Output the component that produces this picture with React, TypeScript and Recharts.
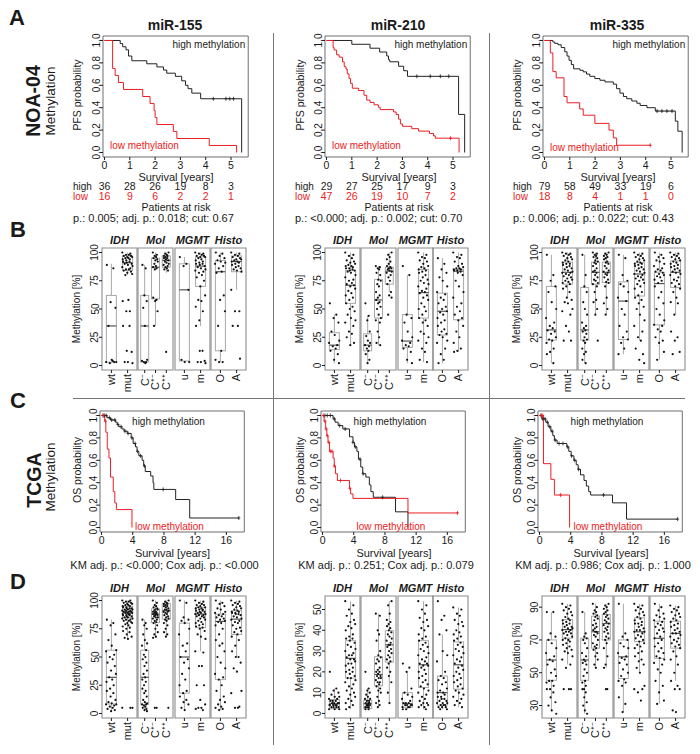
import React from 'react';
import { Bar, ComposedChart, Line, ReferenceArea, Scatter, XAxis, YAxis } from 'recharts';

const FONT = '"Liberation Sans", Arial, Helvetica, sans-serif';
const RED = '#ec1c24';
const INK = '#1a1a1a';
const FRAME = '#8c8c8c';

// ---------- Kaplan-Meier: [years, survival probability] ----------
const YEARS_NOA = [0, 1, 2, 3, 4, 5];
const YEARS_TCGA = [0, 4, 8, 12, 16];
const PROB_TICKS = [0, 0.2, 0.4, 0.6, 0.8, 1];

const A155_HIGH = [[0, 1], [0.62, 0.972], [0.72, 0.944], [0.85, 0.917], [0.95, 0.861], [1.08, 0.819], [1.67, 0.792], [2.07, 0.764], [2.33, 0.736], [2.46, 0.708], [2.8, 0.68], [3.05, 0.64], [3.2, 0.6], [3.3, 0.57], [3.45, 0.53], [3.8, 0.48], [5.42, 0]];
const A155_LOW = [[0, 1], [0.32, 0.75], [0.42, 0.688], [0.55, 0.625], [0.75, 0.563], [1.51, 0.5], [1.8, 0.438], [1.96, 0.375], [2.0, 0.313], [2.07, 0.25], [2.72, 0.188], [2.86, 0.125], [4.14, 0.063], [5.22, 0]];
const A210_HIGH = [[0, 1], [1.0, 0.966], [1.72, 0.931], [2.1, 0.897], [2.38, 0.862], [2.45, 0.828], [2.5, 0.81], [2.85, 0.77], [3.05, 0.73], [3.2, 0.68], [5.22, 0.34], [5.46, 0]];
const A210_LOW = [[0, 1], [0.26, 0.936], [0.3, 0.915], [0.4, 0.872], [0.5, 0.851], [0.63, 0.809], [0.7, 0.766], [0.77, 0.745], [0.82, 0.702], [0.89, 0.66], [0.95, 0.617], [1.02, 0.574], [1.26, 0.553], [1.48, 0.511], [1.59, 0.468], [1.72, 0.447], [1.88, 0.426], [2.05, 0.404], [2.12, 0.383], [2.65, 0.362], [2.75, 0.34], [2.85, 0.298], [2.92, 0.255], [3.0, 0.234], [3.37, 0.213], [3.64, 0.191], [4.07, 0.17], [4.23, 0.149], [4.3, 0.128], [5.24, 0]];
const A335_HIGH = [[0, 1], [0.33, 0.987], [0.4, 0.975], [0.53, 0.962], [0.66, 0.937], [0.8, 0.899], [0.89, 0.861], [0.97, 0.823], [1.06, 0.785], [1.15, 0.747], [1.4, 0.734], [1.53, 0.72], [1.66, 0.7], [1.79, 0.68], [1.99, 0.66], [2.19, 0.645], [2.39, 0.63], [2.72, 0.61], [2.85, 0.57], [2.98, 0.53], [3.12, 0.5], [3.25, 0.48], [3.45, 0.46], [3.65, 0.44], [3.78, 0.42], [4.05, 0.4], [4.38, 0.37], [5.17, 0.28], [5.27, 0.19], [5.44, 0]];
const A335_LOW = [[0, 1], [0.23, 0.889], [0.33, 0.722], [0.46, 0.667], [0.77, 0.5], [0.89, 0.444], [1.39, 0.389], [1.53, 0.333], [1.99, 0.26], [2.55, 0.2], [2.72, 0.13], [2.85, 0.065], [4.18, 0.065]];

const C155_HIGH = [[0, 1], [0.7, 0.98], [1.15, 0.96], [1.8, 0.94], [2.0, 0.92], [2.2, 0.9], [2.6, 0.88], [2.9, 0.86], [3.3, 0.84], [3.8, 0.8], [4.05, 0.75], [4.35, 0.72], [4.55, 0.68], [4.78, 0.64], [5.2, 0.6], [5.4, 0.55], [5.6, 0.5], [6.3, 0.46], [6.6, 0.4], [6.7, 0.34], [9.5, 0.25], [11.3, 0.085], [17.6, 0.085]];
const C155_LOW = [[0, 1], [0.4, 0.95], [0.55, 0.85], [0.73, 0.7], [0.95, 0.62], [1.15, 0.45], [1.5, 0.32], [1.7, 0.22], [1.9, 0.16], [3.9, 0]];
const C210_HIGH = [[0, 1], [1.35, 0.97], [1.6, 0.94], [2.0, 0.91], [2.6, 0.88], [3.45, 0.81], [3.9, 0.76], [4.1, 0.72], [4.4, 0.68], [4.6, 0.61], [4.9, 0.54], [5.15, 0.48], [5.55, 0.45], [6.0, 0.38], [6.2, 0.32], [6.5, 0.27], [9.35, 0.14], [10.95, 0]];
const C210_LOW = [[0, 1], [0.2, 0.95], [0.4, 0.88], [0.55, 0.82], [0.7, 0.76], [0.9, 0.68], [1.35, 0.62], [1.5, 0.55], [1.65, 0.48], [1.9, 0.42], [3.45, 0.35], [3.6, 0.3], [3.9, 0.26], [10.95, 0.13], [17.3, 0.13]];
const C335_HIGH = [[0, 1], [0.3, 0.97], [0.8, 0.94], [1.1, 0.9], [1.45, 0.86], [1.7, 0.82], [1.9, 0.78], [2.25, 0.75], [3.5, 0.72], [3.75, 0.68], [4.05, 0.64], [4.4, 0.6], [4.7, 0.56], [4.95, 0.52], [5.25, 0.47], [5.7, 0.42], [6.0, 0.37], [6.3, 0.32], [6.55, 0.29], [9.35, 0.22], [11.15, 0.075], [17.7, 0.075]];
const C335_LOW = [[0, 1], [0.5, 0.57], [1.45, 0.43], [1.9, 0.29], [3.85, 0]];

// censoring times (years)
const A155_CENS = [[4.3, 4.8, 4.95, 5.1], []];
const A210_CENS = [[3.57, 4.1, 4.5, 4.83], [4.9]];
const A335_CENS = [[4.45, 4.64, 4.84, 5.04], [4.18]];
const C155_CENS = [[0.2, 0.4, 0.6, 1.0, 1.3, 1.7, 2.1, 2.5, 3.0, 3.4, 3.9, 4.3, 4.6, 5.0, 5.5, 7.9, 17.6], [0.2, 0.5]];
const C210_CENS = [[0.3, 0.6, 1.0, 1.5, 2.2, 2.9, 3.9, 4.2, 4.8, 5.2, 7.7], [0.1, 0.3, 0.45, 0.6, 0.8, 1.0, 1.2, 1.5, 2.3, 3.5, 17.3]];
const C335_CENS = [[0.2, 0.4, 0.7, 1.0, 1.3, 1.6, 2.0, 2.5, 3.0, 3.6, 4.1, 4.5, 5.0, 8.2, 17.7], [0.2, 0.4, 2.7]];

// patients at risk (high / low)
const RISK_155 = [[36, 28, 26, 19, 8, 3], [16, 9, 6, 2, 2, 1]];
const RISK_210 = [[29, 27, 25, 17, 9, 3], [47, 26, 19, 10, 7, 2]];
const RISK_335 = [[79, 58, 49, 33, 19, 6], [18, 8, 4, 1, 1, 0]];

const STATS_NOA = ['p.: 0.005; adj. p.: 0.018; cut: 0.67', 'p.: <0.000; adj. p.: 0.002; cut: 0.70', 'p.: 0.006; adj. p.: 0.022; cut: 0.43'];
const STATS_TCGA = ['KM adj. p.: <0.000; Cox adj. p.: <0.000', 'KM adj. p.: 0.251; Cox adj. p.: 0.079', 'KM adj. p.: 0.986; Cox adj. p.: 1.000'];
const TITLES = ['miR-155', 'miR-210', 'miR-335'];

// ---------- methylation by group: box = [min, q1, median, q3, max] ----------
const FACETS = ['IDH', 'Mol', 'MGMT', 'Histo'];
const IDH_CATS = ['wt', 'mut'];
const MOL_CATS = ['C\u207B', 'C\u207A\u207B', 'C\u207A\u207A'];
const MGMT_CATS = ['u', 'm'];
const HISTO_CATS = ['O', 'A'];
const PCT_TICKS = [0, 25, 50, 75, 100];
const D210_TICKS = [0, 10, 20, 30, 40, 50];
const D335_TICKS = [30, 50, 70, 90];

const B155_IDH_BOX = [[2, 3, 35, 62, 90], [80, 84, 91, 97, 100]];
const B155_IDH_PTS = [[89, 86, 56, 51, 35, 5, 3, 3, 3, 2, 4], [100, 99, 98, 98, 97, 97, 96, 96, 95, 95, 94, 94, 93, 92, 92, 91, 90, 90, 89, 88, 87, 86, 85, 85, 84, 83, 82, 81, 80, 58, 57, 48, 48, 35, 35, 13, 12, 3, 3, 2]];
const B155_MOL_BOX = [[2, 3, 35, 62, 89], [35, 59, 87, 95, 100], [82, 87, 93, 97, 100]];
const B155_MOL_PTS = [[89, 86, 62, 57, 51, 35, 5, 4, 3, 3, 2], [100, 98, 97, 96, 95, 94, 93, 92, 90, 88, 87, 86, 85, 60, 58, 57, 48, 35], [100, 99, 98, 97, 97, 96, 95, 95, 94, 93, 92, 91, 90, 89, 88, 87, 86, 85, 84, 12]];
const B155_MGMT_BOX = [[3, 4, 67, 90, 96], [35, 70, 88, 96, 100]];
const B155_MGMT_PTS = [[96, 90, 88, 67, 5, 3, 3], [100, 99, 99, 98, 97, 97, 96, 96, 95, 94, 93, 92, 91, 90, 90, 89, 88, 87, 86, 85, 84, 83, 82, 80, 78, 75, 70, 62, 58, 57, 52, 48, 40, 35, 13, 13, 4, 3, 3, 2]];
const B155_HISTO_BOX = [[3, 13, 83, 93, 100], [67, 83, 92, 97, 100]];
const B155_HISTO_PTS = [[100, 99, 97, 95, 93, 92, 91, 90, 88, 86, 83, 82, 62, 58, 48, 35, 13, 5, 3, 3], [100, 99, 98, 97, 96, 95, 94, 94, 93, 92, 92, 91, 90, 89, 88, 87, 86, 85, 84, 83, 67, 48, 48, 35, 35, 6]];

const B210_IDH_BOX = [[2, 14, 18, 29, 45], [18, 55, 71, 84, 100]];
const B210_IDH_PTS = [[55, 45, 42, 38, 30, 27, 22, 20, 18, 17, 15, 13, 10, 5, 2], [100, 98, 97, 95, 93, 92, 91, 90, 89, 88, 88, 87, 86, 86, 85, 84, 84, 83, 82, 80, 78, 76, 75, 73, 72, 71, 70, 68, 66, 64, 62, 60, 58, 55, 52, 50, 48, 45, 42, 40, 38, 35, 30, 28, 25, 20, 18]];
const B210_MOL_BOX = [[2, 13, 18, 28, 44], [18, 42, 58, 76, 88], [65, 72, 83.5, 87, 100]];
const B210_MOL_PTS = [[55, 44, 40, 30, 26, 22, 20, 18, 17, 15, 13, 10, 5, 2], [88, 87, 86, 85, 82, 80, 76, 75, 72, 70, 65, 62, 60, 58, 56, 55, 52, 50, 45, 42, 40, 38, 30, 25, 20, 18], [100, 98, 96, 94, 92, 90, 88, 87, 86, 86, 85, 84, 83, 82, 80, 78, 75, 72, 65, 62, 60, 45]];
const B210_MGMT_BOX = [[2, 16, 21.6, 45, 80], [3, 42, 64.5, 85, 100]];
const B210_MGMT_PTS = [[88, 80, 45, 42, 38, 30, 25, 22, 20, 18, 17, 15, 12, 5, 2], [100, 98, 96, 95, 93, 92, 90, 88, 87, 86, 85, 84, 83, 82, 80, 78, 76, 75, 73, 72, 70, 68, 66, 65, 64, 62, 60, 58, 55, 52, 50, 48, 45, 42, 40, 38, 35, 30, 28, 25, 22, 20, 15, 12, 5, 3]];
const B210_HISTO_BOX = [[2, 27, 48, 64, 95], [12, 40.5, 83.5, 85, 100]];
const B210_HISTO_PTS = [[95, 90, 85, 82, 78, 75, 70, 65, 63, 60, 58, 55, 52, 50, 48, 47, 45, 42, 40, 38, 35, 32, 30, 28, 27, 25, 22, 20, 15, 10, 5, 2], [100, 98, 96, 95, 92, 90, 88, 87, 86, 86, 85, 85, 84, 84, 83, 82, 80, 75, 70, 65, 60, 55, 52, 48, 45, 42, 40, 35, 30, 25, 20, 15, 13, 12]];

const B335_IDH_BOX = [[2, 22.5, 31.5, 70, 98], [60, 72, 82.5, 91.5, 100]];
const B335_IDH_PTS = [[98, 80, 75, 70, 65, 56, 50, 42, 38, 35, 33, 31, 30, 28, 25, 23, 22, 20, 15, 12, 10, 2], [100, 99, 99, 98, 97, 96, 95, 94, 93, 92, 91, 90, 90, 89, 88, 87, 86, 85, 84, 83, 82, 82, 81, 80, 79, 78, 77, 76, 75, 74, 73, 72, 70, 68, 65, 60, 58, 56, 55, 50, 48, 45, 35, 30, 22, 22]];
const B335_MOL_BOX = [[2, 22.5, 31.5, 69, 98], [45, 72, 82.5, 91.5, 100], [45, 73.5, 82.5, 91.5, 100]];
const B335_MOL_PTS = [[98, 80, 70, 65, 56, 50, 45, 38, 35, 33, 31, 30, 28, 25, 23, 22, 20, 15, 12, 10, 5, 2], [100, 99, 98, 97, 96, 95, 93, 92, 91, 90, 88, 86, 84, 83, 82, 80, 78, 76, 75, 73, 72, 70, 65, 58, 56, 50, 45, 22], [100, 99, 98, 97, 96, 95, 94, 92, 91, 90, 88, 86, 84, 83, 82, 81, 80, 78, 76, 74, 73, 70, 60, 55, 50, 45]];
const B335_MGMT_BOX = [[10, 23, 57, 74, 98], [22, 61.5, 81, 91, 100]];
const B335_MGMT_PTS = [[98, 95, 80, 75, 72, 70, 65, 60, 57, 50, 45, 35, 30, 25, 23, 20, 15, 10], [100, 99, 98, 97, 96, 95, 94, 93, 92, 91, 90, 90, 89, 88, 87, 86, 85, 84, 83, 82, 81, 80, 79, 78, 77, 76, 75, 73, 72, 70, 68, 65, 62, 60, 58, 55, 52, 50, 45, 40, 35, 30, 25, 22, 15, 10, 5, 2]];
const B335_HISTO_BOX = [[5, 36, 72.5, 82.5, 100], [45, 69, 82.5, 92.5, 100]];
const B335_HISTO_PTS = [[100, 98, 96, 95, 93, 92, 90, 88, 86, 85, 84, 83, 82, 81, 80, 79, 78, 76, 75, 73, 70, 65, 60, 55, 50, 45, 40, 36, 35, 32, 30, 25, 22, 20, 12, 5], [100, 99, 98, 97, 96, 95, 94, 93, 92, 91, 90, 89, 88, 87, 86, 85, 84, 83, 82, 81, 80, 78, 76, 75, 73, 72, 70, 68, 65, 60, 56, 55, 45, 30, 25, 22, 12, 10]];

const D155_IDH_BOX = [[2, 8.4, 32, 56, 83], [67, 85, 90, 95, 100]];
const D155_IDH_PTS = [[83, 80, 78, 70, 65, 60, 56, 55, 52, 50, 48, 45, 42, 38, 35, 32, 30, 28, 25, 22, 20, 18, 15, 12, 10, 9, 8, 8, 7, 6, 5, 4, 3, 2], [100, 100, 99, 99, 98, 98, 97, 97, 96, 96, 95, 95, 94, 94, 93, 93, 93, 92, 92, 92, 91, 91, 91, 90, 90, 90, 89, 89, 89, 88, 88, 88, 87, 87, 87, 86, 86, 85, 85, 84, 84, 83, 83, 82, 82, 81, 80, 80, 79, 78, 77, 76, 75, 73, 72, 70, 68, 67, 66, 5, 5, 5]];
const D155_MOL_BOX = [[2, 8, 32, 56, 83], [67, 80.5, 88, 92.5, 100], [68, 83.5, 91, 97.5, 100]];
const D155_MOL_PTS = [[83, 80, 78, 75, 70, 65, 62, 60, 56, 52, 50, 48, 45, 42, 38, 35, 32, 30, 28, 25, 22, 20, 18, 15, 12, 10, 9, 8, 8, 7, 6, 5, 4, 3, 2], [100, 98, 96, 95, 94, 93, 92, 92, 91, 90, 90, 89, 89, 88, 88, 87, 87, 86, 85, 85, 84, 83, 82, 81, 80, 78, 75, 72, 70, 68, 67, 5, 5], [100, 99, 98, 97, 97, 96, 95, 95, 94, 93, 92, 92, 91, 90, 90, 89, 88, 87, 86, 85, 84, 83, 82, 80, 78, 75, 72, 70, 68, 5]];
const D155_MGMT_BOX = [[3, 18, 50, 80, 100], [55, 76, 88, 94, 100]];
const D155_MGMT_PTS = [[100, 98, 85, 83, 82, 80, 75, 70, 62, 60, 55, 50, 48, 45, 40, 35, 30, 25, 20, 18, 15, 12, 10, 8, 5, 3], [100, 99, 98, 97, 96, 96, 95, 94, 94, 93, 93, 92, 92, 91, 91, 90, 90, 89, 89, 88, 88, 87, 87, 86, 86, 85, 84, 83, 82, 81, 80, 79, 78, 77, 76, 75, 73, 70, 68, 66, 55, 54, 42, 42, 25, 25, 12, 8, 5, 5, 4, 3]];
const D155_HISTO_BOX = [[3, 30, 81.5, 88, 100], [50, 70, 83.5, 91, 100]];
const D155_HISTO_PTS = [[100, 98, 97, 95, 93, 92, 90, 89, 88, 87, 86, 85, 84, 83, 82, 81, 80, 78, 75, 70, 65, 62, 60, 55, 50, 45, 40, 35, 32, 30, 25, 20, 15, 12, 10, 8, 6, 5, 4, 3], [100, 99, 98, 97, 96, 95, 94, 93, 92, 91, 90, 90, 89, 89, 88, 88, 87, 86, 85, 84, 83, 82, 81, 80, 78, 76, 75, 73, 72, 70, 68, 65, 60, 55, 50, 50, 45, 40, 37, 20, 18, 6, 5, 5]];

const D210_IDH_BOX = [[2, 2.3, 4.7, 6.7, 12], [2, 17, 26.5, 35, 54]];
const D210_IDH_PTS = [[20, 12, 11, 10, 9, 8, 8, 7, 7, 6, 6, 6, 5, 5, 5, 5, 4, 4, 4, 4, 4, 3, 3, 3, 3, 2, 2, 2], [54, 52, 50, 48, 47, 45, 44, 43, 42, 41, 40, 38, 37, 36, 36, 35, 34, 33, 32, 31, 30, 29, 28, 28, 27, 26, 26, 25, 24, 24, 23, 22, 21, 20, 20, 19, 18, 17, 17, 16, 15, 14, 13, 12, 11, 10, 9, 8, 7, 6, 5, 4, 3, 2]];
const D210_MOL_BOX = [[2, 2.3, 4.7, 6.3, 12], [3, 13.3, 18.75, 27.3, 48], [5, 24.7, 33, 39.8, 54]];
const D210_MOL_PTS = [[20, 12, 11, 10, 9, 8, 7, 7, 6, 6, 5, 5, 5, 4, 4, 4, 4, 3, 3, 3, 2, 2], [48, 47, 40, 38, 35, 30, 28, 27, 26, 25, 24, 22, 21, 20, 20, 19, 18, 18, 17, 17, 16, 15, 15, 14, 13, 12, 11, 10, 8, 6, 5, 4, 3], [54, 52, 48, 45, 44, 43, 42, 41, 40, 39, 38, 37, 36, 35, 34, 33, 33, 32, 31, 30, 29, 28, 27, 26, 25, 24, 22, 20, 18, 15, 10, 5]];
const D210_MGMT_BOX = [[2, 3, 4.7, 10, 20], [2, 12.5, 23.4, 35, 54]];
const D210_MGMT_PTS = [[24, 22, 20, 12, 10, 9, 8, 7, 6, 5, 5, 5, 4, 4, 4, 4, 3, 3, 3, 2, 2], [54, 52, 50, 48, 46, 45, 44, 42, 41, 40, 38, 37, 36, 35, 34, 33, 32, 31, 30, 29, 28, 27, 26, 25, 24, 24, 23, 23, 22, 21, 20, 19, 18, 17, 16, 15, 14, 13, 12, 11, 10, 9, 8, 7, 6, 5, 5, 4, 4, 3, 3, 2]];
const D210_HISTO_BOX = [[2, 4, 10, 18, 38], [3, 11.7, 23.4, 34.4, 51]];
const D210_HISTO_PTS = [[54, 47, 45, 40, 38, 30, 28, 25, 20, 18, 17, 16, 15, 14, 12, 11, 10, 10, 9, 8, 8, 7, 7, 6, 6, 5, 5, 5, 4, 4, 4, 3, 3, 3, 2, 2], [51, 50, 48, 47, 45, 44, 43, 42, 40, 39, 38, 37, 36, 35, 34, 33, 32, 31, 30, 29, 28, 27, 26, 25, 24, 23, 22, 21, 20, 19, 18, 17, 16, 15, 14, 13, 12, 11, 10, 9, 8, 7, 6, 5, 4, 3]];

const D335_IDH_BOX = [[27, 45.4, 57.8, 70, 87], [55, 71.1, 76.3, 82.4, 92]];
const D335_IDH_PTS = [[87, 87, 74, 72, 70, 68, 65, 62, 60, 58, 57, 55, 52, 50, 48, 45, 45, 44, 42, 40, 40, 38, 35, 32, 30, 27, 25], [92, 91, 90, 89, 88, 87, 86, 85, 84, 83, 82, 82, 81, 80, 80, 79, 78, 78, 77, 77, 76, 76, 75, 75, 74, 74, 73, 72, 71, 70, 70, 69, 68, 67, 66, 65, 64, 63, 62, 60, 58, 55, 53, 40, 40, 40]];
const D335_MOL_BOX = [[25, 45.4, 57.8, 71, 87], [53, 65, 75, 84.5, 92], [53, 70, 80, 85.5, 92]];
const D335_MOL_PTS = [[87, 74, 72, 71, 70, 68, 65, 62, 60, 58, 57, 56, 55, 52, 50, 48, 45, 44, 42, 40, 40, 38, 35, 32, 30, 27, 25], [92, 90, 88, 87, 86, 85, 84, 83, 82, 80, 79, 78, 77, 76, 75, 75, 74, 73, 72, 70, 68, 67, 66, 65, 64, 62, 60, 58, 55, 53], [92, 91, 90, 89, 88, 87, 86, 85, 84, 83, 82, 81, 80, 79, 78, 77, 76, 75, 74, 72, 71, 70, 68, 65, 60, 55, 53, 40, 40]];
const D335_MGMT_BOX = [[26, 46.5, 59.7, 70, 92], [50, 69, 75, 83.5, 92]];
const D335_MGMT_PTS = [[92, 74, 72, 70, 68, 66, 65, 62, 60, 59, 58, 56, 55, 52, 50, 48, 46, 45, 44, 42, 35, 31, 26], [92, 91, 90, 89, 88, 87, 86, 85, 84, 83, 82, 81, 80, 80, 79, 78, 77, 76, 76, 75, 75, 74, 73, 72, 71, 70, 69, 68, 67, 66, 65, 63, 62, 60, 58, 57, 55, 53, 50, 42, 40, 40, 38, 33]];
const D335_HISTO_BOX = [[31, 58.8, 71, 81.4, 92], [45, 65, 74, 81.4, 91]];
const D335_HISTO_PTS = [[92, 90, 88, 86, 85, 84, 83, 82, 81, 80, 79, 78, 77, 76, 75, 74, 72, 71, 70, 68, 66, 65, 63, 62, 60, 59, 58, 56, 55, 52, 50, 45, 42, 38, 33, 31], [91, 90, 89, 88, 87, 86, 85, 84, 83, 82, 81, 80, 79, 78, 77, 76, 75, 74, 74, 73, 72, 71, 70, 69, 68, 67, 66, 65, 63, 60, 58, 55, 50, 45, 42, 40, 40, 27, 26]];

// jitter offsets for the dots, in category units
const JIT = [-0.28, 0.12, -0.05, 0.25, -0.18, 0.02, 0.3, -0.33, 0.17, -0.1, 0.08, -0.24, 0.21, -0.02, 0.28, -0.14, 0.05, -0.3, 0.14, -0.08];

const CATS = [IDH_CATS, MOL_CATS, MGMT_CATS, HISTO_CATS];
const B_ROW = [
  [[B155_IDH_BOX, B155_IDH_PTS], [B155_MOL_BOX, B155_MOL_PTS], [B155_MGMT_BOX, B155_MGMT_PTS], [B155_HISTO_BOX, B155_HISTO_PTS]],
  [[B210_IDH_BOX, B210_IDH_PTS], [B210_MOL_BOX, B210_MOL_PTS], [B210_MGMT_BOX, B210_MGMT_PTS], [B210_HISTO_BOX, B210_HISTO_PTS]],
  [[B335_IDH_BOX, B335_IDH_PTS], [B335_MOL_BOX, B335_MOL_PTS], [B335_MGMT_BOX, B335_MGMT_PTS], [B335_HISTO_BOX, B335_HISTO_PTS]]
];
const D_ROW = [
  [[D155_IDH_BOX, D155_IDH_PTS], [D155_MOL_BOX, D155_MOL_PTS], [D155_MGMT_BOX, D155_MGMT_PTS], [D155_HISTO_BOX, D155_HISTO_PTS]],
  [[D210_IDH_BOX, D210_IDH_PTS], [D210_MOL_BOX, D210_MOL_PTS], [D210_MGMT_BOX, D210_MGMT_PTS], [D210_HISTO_BOX, D210_HISTO_PTS]],
  [[D335_IDH_BOX, D335_IDH_PTS], [D335_MOL_BOX, D335_MOL_PTS], [D335_MGMT_BOX, D335_MGMT_PTS], [D335_HISTO_BOX, D335_HISTO_PTS]]
];
const D_Y = [
  { domain: [-4, 104], ticks: PCT_TICKS },
  { domain: [-2.2, 56.5], ticks: D210_TICKS },
  { domain: [22.4, 96.8], ticks: D335_TICKS }
];

// layout
const FACET_X = [[102, 138, 175, 211], [325, 361, 398, 433], [542, 578, 614, 650]];
const FACET_W = 35;
const FACET_H = 122;
const KM_H = 121;
const PAD_TOP = 9;
const KM_LEFT_A = [103, 325, 543];
const KM_LEFT_C = [99.5, 321, 538];
const COL_LABEL_X = [77, 300, 517];
const COL_CENTER = [175, 398, 617];

const survAt = (curve: number[][], t: number) => {
  let s = 1;
  curve.forEach(([ct, cs]) => {
    if (ct <= t) s = cs;
  });
  return s;
};

const Txt = ({ x, y, children, size = 11, bold = false, italic = false, color = INK, align = 'center', rot = false }: any) => {
  const tx = align === 'center' ? '-50%' : align === 'right' ? '-100%' : '0';
  return (
    <div
      style={{
        position: 'absolute',
        left: x,
        top: y,
        transform: `translate(${tx}, -50%)${rot ? ' rotate(-90deg)' : ''}`,
        fontSize: size,
        fontWeight: bold ? 700 : 400,
        fontStyle: italic ? 'italic' : 'normal',
        color,
        whiteSpace: 'nowrap',
        lineHeight: 1,
        fontFamily: FONT
      }}
    >
      {children}
    </div>
  );
};

const rotTick = (fmt: (v: number) => string) => (p: any) => (
  <text
    x={p.x}
    y={p.y}
    transform={`rotate(-90 ${p.x} ${p.y})`}
    textAnchor="middle"
    fontSize={10}
    fill={INK}
    fontFamily={FONT}
  >
    {fmt(p.payload.value)}
  </text>
);

const Cross = (p: any) => (
  <g stroke={p.fill} strokeWidth={0.8}>
    <line x1={p.cx} x2={p.cx} y1={p.cy - 2} y2={p.cy + 2} />
    <line x1={p.cx - 1.5} x2={p.cx + 1.5} y1={p.cy} y2={p.cy} />
  </g>
);

const KMPlot = ({ left, top, xDomain, xTicks, pxPerYear, high, low, cens, risk }: any) => {
  const w = (xDomain[1] - xDomain[0]) * pxPerYear;
  const axisH = risk ? 48 : 16;
  const toPts = (c: number[][]) => c.map(([t, s]) => ({ t, s }));
  const censPts = (c: number[][], times: number[]) => times.map((t) => ({ t, s: survAt(c, t) }));
  const xTick = (p: any) => (
    <g fontFamily={FONT}>
      <text x={p.x} y={p.y + 6.8} textAnchor="middle" fontSize={10.5} fill={INK}>{p.payload.value}</text>
      {risk && <text x={p.x} y={p.y + 28} textAnchor="middle" fontSize={10.5} fill={INK}>{risk[0][p.index]}</text>}
      {risk && <text x={p.x} y={p.y + 38} textAnchor="middle" fontSize={10.5} fill={RED}>{risk[1][p.index]}</text>}
    </g>
  );
  return (
    <div style={{ position: 'absolute', left: left - 31, top: top - PAD_TOP }}>
      <ComposedChart width={31 + w + 3} height={PAD_TOP + KM_H + axisH} margin={{ top: PAD_TOP, right: 3, left: 1, bottom: 0 }}>
        <XAxis type="number" dataKey="t" domain={xDomain} ticks={xTicks} interval={0} allowDataOverflow
          axisLine={false} tickSize={3} tickMargin={2} height={axisH} tickLine={{ stroke: INK }} tick={xTick} />
        <YAxis type="number" dataKey="s" domain={[-0.04, 1.04]} ticks={PROB_TICKS} interval={0} allowDataOverflow
          axisLine={false} tickSize={3} tickMargin={0} width={30} tickLine={{ stroke: INK }} tick={rotTick((v) => v.toFixed(1))} />
        <ReferenceArea x1={xDomain[0]} x2={xDomain[1]} y1={-0.04} y2={1.04} fill="none" stroke="#6e6e6e" strokeWidth={1} ifOverflow="visible" />
        <Line data={toPts(high)} dataKey="s" type="stepAfter" stroke="#222" strokeWidth={1} dot={false} isAnimationActive={false} />
        <Line data={toPts(low)} dataKey="s" type="stepAfter" stroke={RED} strokeWidth={1} dot={false} isAnimationActive={false} />
        <Scatter data={censPts(high, cens[0])} dataKey="s" fill="#222" shape={Cross} isAnimationActive={false} />
        <Scatter data={censPts(low, cens[1])} dataKey="s" fill={RED} shape={Cross} isAnimationActive={false} />
      </ComposedChart>
    </div>
  );
};

const BoxShape = (p: any) => {
  const { x, width, payload } = p;
  const top = Math.min(p.y, p.y + p.height);
  const h = Math.abs(p.height);
  const [lo, q1, med, q3, hi] = payload.st;
  const k = h / (q3 - q1);
  const py = (v: number) => top + (q3 - v) * k;
  const cx = x + width / 2;
  const half = payload.bw / 2;
  return (
    <g>
      <line x1={cx} x2={cx} y1={py(hi)} y2={top} stroke="#a8a8a8" strokeWidth={1} />
      <line x1={cx} x2={cx} y1={top + h} y2={py(lo)} stroke="#a8a8a8" strokeWidth={1} />
      <rect x={cx - half} y={top} width={half * 2} height={h} fill="none" stroke="#a8a8a8" strokeWidth={1} />
      <line x1={cx - half} x2={cx + half} y1={py(med)} y2={py(med)} stroke="#555" strokeWidth={1.2} />
    </g>
  );
};

const Dot = (p: any) => <circle cx={p.cx} cy={p.cy} r={1.1} fill="#111" />;

const Facet = ({ x, top, cats, box, pts, yDomain, yTicks, showY }: any) => {
  const n = cats.length;
  const pad = 0.04 * n;
  const xDom = [0.5 - pad, n + 0.5 + pad];
  const bw = n === 2 ? 10 : 8;
  const boxData = box.map((st: number[], i: number) => ({ x: i + 1, box: [st[1], st[3]], st, bw }));
  const spread = n === 2 ? 1 : 0.75;
  const dots: { x: number; y: number }[] = [];
  pts.forEach((g: number[], gi: number) =>
    g.forEach((v, j) => dots.push({ x: gi + 1 + JIT[(j + gi * 7) % JIT.length] * spread, y: v }))
  );
  const yw = showY ? 26 : 0;
  const catTick = (p: any) => (
    <text x={p.x} y={p.y} transform={`rotate(-90 ${p.x} ${p.y})`} textAnchor="end" dy="0.35em"
      fontSize={11} fill={INK} fontFamily={FONT}>
      {cats[p.index]}
    </text>
  );
  return (
    <div style={{ position: 'absolute', left: x - yw - 1, top: top - PAD_TOP }}>
      <ComposedChart width={FACET_W + yw + 2} height={PAD_TOP + FACET_H + 40} data={boxData}
        margin={{ top: PAD_TOP, right: 1, left: 1, bottom: 0 }}>
        <XAxis type="number" dataKey="x" domain={xDom} ticks={cats.map((_: string, i: number) => i + 1)} interval={0}
          allowDataOverflow axisLine={false} tickSize={3} tickMargin={1} height={40} tickLine={{ stroke: INK }} tick={catTick} />
        <YAxis type="number" dataKey="y" domain={yDomain} ticks={yTicks} interval={0} allowDataOverflow hide={!showY}
          axisLine={false} tickSize={3} tickMargin={0.5} width={yw} tickLine={{ stroke: INK }} tick={rotTick((v) => String(v))} />
        <ReferenceArea x1={xDom[0]} x2={xDom[1]} y1={yDomain[0]} y2={yDomain[1]} fill="none" stroke={FRAME} strokeWidth={1.1} ifOverflow="visible" />
        <Bar dataKey="box" barSize={bw} shape={BoxShape} isAnimationActive={false} />
        <Scatter data={dots} dataKey="y" shape={Dot} isAnimationActive={false} />
      </ComposedChart>
    </div>
  );
};

const BoxRow = ({ row, top, yOf, labelY }: any) => (
  <>
    {row.map((panel: any[], c: number) => (
      <React.Fragment key={c}>
        <Txt x={COL_LABEL_X[c]} y={labelY} size={10} rot>Methylation [%]</Txt>
        {panel.map(([box, pts]: any, f: number) => (
          <React.Fragment key={f}>
            <Txt x={FACET_X[c][f] + FACET_W / 2} y={top - 8} size={11} bold italic>{FACETS[f]}</Txt>
            <Facet x={FACET_X[c][f]} top={top} cats={CATS[f]} box={box} pts={pts}
              yDomain={yOf(c).domain} yTicks={yOf(c).ticks} showY={f === 0} />
          </React.Fragment>
        ))}
      </React.Fragment>
    ))}
  </>
);

const App = () => {
  const noaCurves = [[A155_HIGH, A155_LOW, A155_CENS, RISK_155], [A210_HIGH, A210_LOW, A210_CENS, RISK_210], [A335_HIGH, A335_LOW, A335_CENS, RISK_335]];
  const tcgaCurves = [[C155_HIGH, C155_LOW, C155_CENS], [C210_HIGH, C210_LOW, C210_CENS], [C335_HIGH, C335_LOW, C335_CENS]];
  const noaDomain = [-0.06, 5.68];
  const tcgaDomain = [-0.2, 18.3];
  return (
    <div style={{ position: 'absolute', left: 0, top: 0, width: 700, height: 754, background: '#fff', fontFamily: FONT, overflow: 'hidden' }}>
      {/* separators */}
      <div style={{ position: 'absolute', left: 272.5, top: 33, width: 1.5, height: 712, background: '#777' }} />
      <div style={{ position: 'absolute', left: 488.5, top: 33, width: 1.5, height: 712, background: '#777' }} />
      <div style={{ position: 'absolute', left: 73, top: 397.5, width: 612, height: 1.5, background: '#777' }} />

      {/* panel letters and row labels */}
      <Txt x={9} y={18} size={22} bold align="left">A</Txt>
      <Txt x={10} y={230} size={22} bold align="left">B</Txt>
      <Txt x={10} y={401} size={22} bold align="left">C</Txt>
      <Txt x={10} y={582} size={22} bold align="left">D</Txt>
      <Txt x={34} y={101} size={19.5} bold rot>NOA-04</Txt>
      <Txt x={51} y={101} size={13.5} rot>Methylation</Txt>
      <Txt x={35} y={480} size={19.5} bold rot>TCGA</Txt>
      <Txt x={51} y={477} size={13.5} rot>Methylation</Txt>

      {/* A: PFS in NOA-04 */}
      {noaCurves.map(([high, low, cens, risk]: any, c) => {
        const L = KM_LEFT_A[c];
        const R = L + (noaDomain[1] - noaDomain[0]) * 25.3;
        return (
          <React.Fragment key={`a${c}`}>
            <Txt x={COL_CENTER[c]} y={25} size={14} bold>{TITLES[c]}</Txt>
            <Txt x={COL_LABEL_X[c]} y={95} size={10.5} rot>PFS probability</Txt>
            <KMPlot left={L} top={36} xDomain={noaDomain} xTicks={YEARS_NOA} pxPerYear={25.3} high={high} low={low} cens={cens} risk={risk} />
            <Txt x={R - 3} y={45} size={10} align="right">high methylation</Txt>
            <Txt x={L + 7} y={c === 2 ? 148 : 145.5} size={10} color={RED} align="left">low methylation</Txt>
            <Txt x={COL_CENTER[c] + 1} y={176.5} size={11}>Survival [years]</Txt>
            <Txt x={L - 30} y={186.5} size={10} align="left">high</Txt>
            <Txt x={L - 30} y={196.5} size={10} color={RED} align="left">low</Txt>
            <Txt x={COL_CENTER[c] + 1} y={207} size={10.5}>Patients at risk</Txt>
            <Txt x={L - 30} y={218} size={11} align="left">{STATS_NOA[c]}</Txt>
          </React.Fragment>
        );
      })}

      {/* B: NOA-04 methylation by group */}
      <BoxRow row={B_ROW} top={248} yOf={() => D_Y[0]} labelY={309} />

      {/* C: OS in TCGA */}
      {tcgaCurves.map(([high, low, cens]: any, c) => {
        const L = KM_LEFT_C[c];
        return (
          <React.Fragment key={`c${c}`}>
            <Txt x={COL_LABEL_X[c]} y={470} size={10.5} rot>OS probability</Txt>
            <KMPlot left={L} top={411} xDomain={tcgaDomain} xTicks={YEARS_TCGA} pxPerYear={7.8} high={high} low={low} cens={cens} />
            <Txt x={L + 69} y={422} size={10}>high methylation</Txt>
            <Txt x={L + 35.5} y={527} size={10} color={RED} align="left">low methylation</Txt>
            <Txt x={L + 73} y={552.5} size={11}>Survival [years]</Txt>
            <Txt x={L + 65} y={564.5} size={11}>{STATS_TCGA[c]}</Txt>
          </React.Fragment>
        );
      })}

      {/* D: TCGA methylation by group */}
      <BoxRow row={D_ROW} top={596} yOf={(c: number) => D_Y[c]} labelY={657} />
    </div>
  );
};

export default App;
